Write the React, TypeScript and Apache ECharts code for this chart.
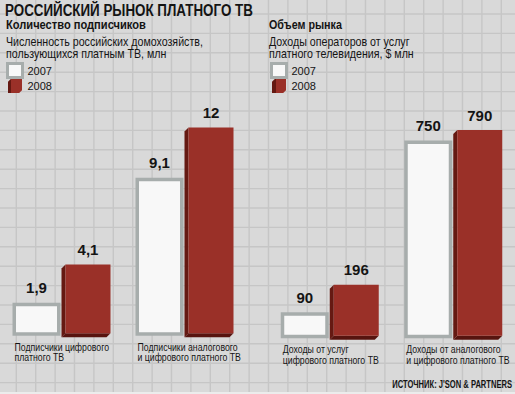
import React, { useEffect, useRef } from 'react';
import * as echarts from 'echarts';

// ---- data ----
const leftCategories = ['Подписчики цифрового\nплатного ТВ', 'Подписчики аналогового\nи цифрового платного ТВ'];
const left2007 = [1.9, 9.1];
const left2008 = [4.1, 12];
const rightCategories = ['Доходы от услуг\nцифрового платного ТВ', 'Доходы от аналогового\nи цифрового платного ТВ'];
const right2007 = [90, 750];
const right2008 = [196, 790];
const seriesNames = ['2007', '2008'];

const titleText = 'РОССИЙСКИЙ РЫНОК ПЛАТНОГО ТВ';
const leftHeading = 'Количество подписчиков';
const leftSub = 'Численность российских домохозяйств,\nпользующихся платным ТВ, млн';
const rightHeading = 'Объем рынка';
const rightSub = 'Доходы операторов от услуг\nплатного телевидения, $ млн';
const sourceText = "ИСТОЧНИК: J'SON & PARTNERS";

// ---- style ----
const WIDE = '"Liberation Sans", Arial, sans-serif';
const INK = '#141414';
const WHITE_BORDER = '#a7adac';
const WHITE_FILL = '#f8f8f8';
const RED = '#9a3028';
const RED_SIDE = '#651912';
const RED_BOTTOM = '#57140f';

const FONT_TITLE = `bold 17px ${WIDE}`;
const FONT_HEAD = `bold 12px ${WIDE}`;
const FONT_SUB = `12px ${WIDE}`;
const FONT_CAT = `11px ${WIDE}`;
const FONT_SRC = `bold 10px ${WIDE}`;
const FONT_VAL = `bold 15px ${WIDE}`;

const fmt = (v: number) => String(v).replace('.', ',');

let measureCtx: CanvasRenderingContext2D | null = null;
function textWidth(text: string, font: string) {
  if (!measureCtx) measureCtx = document.createElement('canvas').getContext('2d');
  if (!measureCtx) return 1;
  measureCtx.font = font;
  return Math.max(...text.split('\n').map((l) => measureCtx!.measureText(l).width));
}
// horizontal squeeze that makes the widest line span the target width (condensed face emulation)
function fit(text: string, font: string, target: number) {
  const w = textWidth(text, font);
  return w > 0 ? target / w : 1;
}

function narrowText(x: number, y: number, text: string, font: string, scaleX: number, opts: any = {}) {
  return {
    type: 'text', x, y, scaleX, silent: true, z: 5,
    style: {
      text, font, fill: INK,
      align: opts.align ?? 'left', textAlign: opts.align ?? 'left',
      verticalAlign: opts.va ?? 'middle', textVerticalAlign: opts.va ?? 'middle',
      lineHeight: opts.lineHeight,
    },
  };
}

function makeWhite(axisMin: number, cats: string[], catScale: number) {
  return (_params: any, api: any) => {
    const i = api.value(0);
    const v = api.value(1);
    const c = api.coord([i, v]);
    const b = api.coord([i, axisMin]);
    const cx = c[0];
    const top = c[1];
    const base = b[1];
    return {
      type: 'group',
      children: [
        { type: 'rect', shape: { x: cx - 49, y: top, width: 48, height: base - top }, style: { fill: WHITE_BORDER } },
        { type: 'rect', shape: { x: cx - 45.5, y: top + 3.5, width: 41, height: base - top - 7 }, style: { fill: WHITE_FILL } },
        {
          type: 'text', x: cx - 25, y: top - 15,
          style: { text: fmt(v), font: FONT_VAL, fill: INK, align: 'center', verticalAlign: 'middle' },
        },
        {
          type: 'text', x: cx - 47, y: base + 6, scaleX: catScale,
          style: { text: cats[i], font: FONT_CAT, lineHeight: 10.5, fill: INK, align: 'left', verticalAlign: 'top' },
        },
      ],
    };
  };
}

function makeRed(axisMin: number) {
  return (_params: any, api: any) => {
    const i = api.value(0);
    const v = api.value(1);
    const c = api.coord([i, v]);
    const b = api.coord([i, axisMin]);
    const cx = c[0];
    const top = c[1];
    const base = b[1];
    const fb = base - 2.5;
    const fl = cx + 4;
    const fr = cx + 49;
    return {
      type: 'group',
      children: [
        { type: 'polygon', shape: { points: [[fl, top], [cx, top + 4], [cx, fb + 4], [fl, fb]] }, style: { fill: RED_SIDE } },
        { type: 'polygon', shape: { points: [[fl, fb], [cx, fb + 4], [fr - 4, fb + 4], [fr, fb]] }, style: { fill: RED_BOTTOM } },
        { type: 'rect', shape: { x: fl, y: top, width: fr - fl, height: fb - top }, style: { fill: RED } },
        {
          type: 'text', x: (fl + fr) / 2, y: top - 15,
          style: { text: fmt(v), font: FONT_VAL, fill: INK, align: 'center', verticalAlign: 'middle' },
        },
      ],
    };
  };
}

const redGradient = {
  type: 'linear', x: 0, y: 0, x2: 1, y2: 0,
  colorStops: [
    { offset: 0, color: RED_SIDE },
    { offset: 0.25, color: RED_SIDE },
    { offset: 0.25, color: RED },
    { offset: 1, color: RED },
  ],
};

function legendFor(left: number) {
  return {
    left, top: 62, orient: 'vertical', itemWidth: 15, itemHeight: 14, itemGap: 0, padding: 0,
    selectedMode: false,
    textStyle: { fontSize: 11, fontFamily: WIDE, color: INK },
    data: [
      { name: seriesNames[0], icon: 'rect', itemStyle: { color: WHITE_FILL, borderColor: WHITE_BORDER, borderWidth: 3 } },
      { name: seriesNames[1], icon: 'path://M3,0 L15,0 L15,12 L12,15 L0,15 L0,3 Z', itemStyle: { color: redGradient, borderWidth: 0 } },
    ],
  };
}

function backgroundGraphics() {
  const els: any[] = [];
  const step = 19.4;
  for (let x = 16.3 - step; x < 515; x += step) {
    els.push({ type: 'line', silent: true, z: -10, shape: { x1: x, y1: 0, x2: x, y2: 392 }, style: { stroke: '#c6c6c6', lineWidth: 1.4 } });
  }
  for (let y = 111 - 6 * step; y < 392; y += step) {
    els.push({ type: 'line', silent: true, z: -10, shape: { x1: 0, y1: y, x2: 515, y2: y }, style: { stroke: '#c6c6c6', lineWidth: 1.4 } });
  }
  els.push({ type: 'rect', silent: true, z: -9, shape: { x: 0, y: 392, width: 515, height: 2 }, style: { fill: '#ececec' } });
  return els;
}

function textGraphics() {
  return [
    narrowText(5, 10, titleText, FONT_TITLE, fit(titleText, FONT_TITLE, 248)),
    narrowText(6, 25, leftHeading, FONT_HEAD, fit(leftHeading, FONT_HEAD, 140)),
    narrowText(6, 35.9, leftSub, FONT_SUB, fit(leftSub, FONT_SUB, 197), { va: 'top', lineHeight: 11.7 }),
    narrowText(269, 25, rightHeading, FONT_HEAD, fit(rightHeading, FONT_HEAD, 73)),
    narrowText(269, 35.9, rightSub, FONT_SUB, fit(rightSub, FONT_SUB, 145), { va: 'top', lineHeight: 11.7 }),
    narrowText(512, 385, sourceText, FONT_SRC, fit(sourceText, FONT_SRC, 120), { align: 'right' }),
  ];
}

const LEFT_MIN = 0;
const LEFT_MAX = 12;
const RIGHT_MIN = -10;
const RIGHT_MAX = 790;

export default function App() {
  const ref = useRef<HTMLDivElement>(null);
  useEffect(() => {
    if (!ref.current) return;
    const chart = echarts.init(ref.current, null, { renderer: 'svg' });
    const catScale = fit(leftCategories[1], FONT_CAT, 103.5);
    chart.setOption({
      animation: false,
      backgroundColor: '#d9d9d9',
      legend: [legendFor(6), legendFor(270)],
      graphic: [...backgroundGraphics(), ...textGraphics()],
      grid: [
        { left: 0, width: 246, top: 127.5, height: 208.2 },
        { left: 268, width: 248, top: 130, height: 208.3 },
      ],
      xAxis: [
        { type: 'category', gridIndex: 0, data: leftCategories, show: false },
        { type: 'category', gridIndex: 1, data: rightCategories, show: false },
      ],
      yAxis: [
        { type: 'value', gridIndex: 0, min: LEFT_MIN, max: LEFT_MAX, show: false },
        { type: 'value', gridIndex: 1, min: RIGHT_MIN, max: RIGHT_MAX, show: false },
      ],
      series: [
        {
          type: 'custom', name: seriesNames[0], xAxisIndex: 0, yAxisIndex: 0, itemStyle: { color: WHITE_FILL },
          encode: { x: 0, y: 1 }, data: left2007.map((v, i) => [i, v]), renderItem: makeWhite(LEFT_MIN, leftCategories, catScale),
        },
        {
          type: 'custom', name: seriesNames[1], xAxisIndex: 0, yAxisIndex: 0, itemStyle: { color: RED },
          encode: { x: 0, y: 1 }, data: left2008.map((v, i) => [i, v]), renderItem: makeRed(LEFT_MIN),
        },
        {
          type: 'custom', name: seriesNames[0], xAxisIndex: 1, yAxisIndex: 1, itemStyle: { color: WHITE_FILL },
          encode: { x: 0, y: 1 }, data: right2007.map((v, i) => [i, v]), renderItem: makeWhite(RIGHT_MIN, rightCategories, catScale),
        },
        {
          type: 'custom', name: seriesNames[1], xAxisIndex: 1, yAxisIndex: 1, itemStyle: { color: RED },
          encode: { x: 0, y: 1 }, data: right2008.map((v, i) => [i, v]), renderItem: makeRed(RIGHT_MIN),
        },
      ],
    });
    return () => chart.dispose();
  }, []);
  return <div ref={ref} style={{ position: 'absolute', left: 0, top: 0, width: 515, height: 394 }} />;
}
